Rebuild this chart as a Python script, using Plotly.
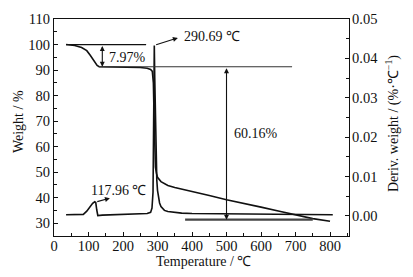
import plotly.graph_objects as go

# TG curve (weight %)
tg_temp = [35, 60, 80, 95, 105, 112, 119, 125, 131, 150, 200, 250, 270, 280, 285, 288, 290, 292, 294, 297,
           300, 310, 330, 350, 400, 450, 500, 550, 600, 650, 700, 750, 800]
tg_weight = [100, 99.6, 98.8, 97.6, 95.8, 94.3, 93.0, 91.8, 91.3, 91.25, 91.2, 91.0, 90.7, 90.2, 89.5, 85, 72, 58, 52, 49.5,
             48.0, 46.3, 44.8, 44.0, 42.6, 40.9, 39.2, 37.9, 36.3, 34.8, 33.2, 31.8, 30.8]

# DTG curve (%/°C)
dtg_temp = [35, 70, 85, 95, 105, 112, 118, 121, 124, 127, 140, 200, 250, 270, 280, 284, 287, 289, 290.69, 292, 294,
            296, 298, 300, 303, 306, 310, 315, 320, 330, 345, 370, 400, 500, 600, 700, 808]
dtg_value = [0.0003, 0.0003, 0.0004, 0.0012, 0.0025, 0.0032, 0.0036, 0.0034, 0.0015, 0.0001, 0.0002, 0.0003, 0.0004, 0.0006, 0.0009, 0.002, 0.006, 0.02, 0.0433, 0.035, 0.022,
             0.014, 0.009, 0.0065, 0.0045, 0.0033, 0.0024, 0.0018, 0.0014, 0.0011, 0.0009, 0.0007, 0.0006, 0.0005, 0.0004, 0.0003, 0.0003]

peak1_temp, peak1_val = 117.96, 0.0036
peak2_temp, peak2_val = 290.69, 0.0433
w_start, w_plateau, w_residual = 100, 91.3, 31.4
loss1_label, loss2_label = "7.97%", "60.16%"
x_title, y_title, y2_title = "Temperature / ℃", "Weight / %", "Deriv. weight / (%·℃<sup>−1</sup>)"

FONT = "Liberation Serif"
FS = 14
TFS = 14.5

fig = go.Figure()
fig.add_trace(go.Scatter(x=tg_temp, y=tg_weight, mode="lines",
                         line=dict(color="#111", width=1.6), yaxis="y", showlegend=False))
fig.add_trace(go.Scatter(x=dtg_temp, y=dtg_value, mode="lines",
                         line=dict(color="#111", width=1.6), yaxis="y2", showlegend=False))

shapes = [
    dict(type="line", xref="x", yref="y", x0=35, x1=267, y0=w_start, y1=w_start, line=dict(color="#111", width=1.2)),
    dict(type="line", xref="x", yref="y", x0=130, x1=690, y0=w_plateau, y1=w_plateau, line=dict(color="#333", width=1.1)),
    dict(type="line", xref="x", yref="y", x0=380, x1=750, y0=w_residual, y1=w_residual, line=dict(color="#444", width=2.2)),
]

ann = []
# double arrows
ann.append(dict(x=140, y=w_plateau, ax=140, ay=w_start, xref="x", yref="y", axref="x", ayref="y",
                text="", showarrow=True, arrowhead=2, arrowside="end+start", arrowsize=0.9, arrowwidth=1.1, arrowcolor="#111"))
ann.append(dict(x=500, y=w_residual, ax=500, ay=w_plateau, xref="x", yref="y", axref="x", ayref="y",
                text="", showarrow=True, arrowhead=2, arrowside="end+start", arrowsize=0.9, arrowwidth=1.1, arrowcolor="#111"))
# peak arrows
ann.append(dict(x=359, y=102.6, ax=peak2_temp + 1, ay=99.7, xref="x", yref="y", axref="x", ayref="y",
                text="", showarrow=True, arrowhead=2, arrowsize=0.9, arrowwidth=1.1, arrowcolor="#111"))
ann.append(dict(x=162, y=39.8, ax=peak1_temp + 3, ay=38.3, xref="x", yref="y", axref="x", ayref="y",
                text="", showarrow=True, arrowhead=2, arrowsize=0.9, arrowwidth=1.1, arrowcolor="#111"))
# labels
tf = dict(family=FONT, size=FS, color="#111")
ann.append(dict(x=212, y=95.1, xref="x", yref="y", text=loss1_label, showarrow=False, font=tf))
ann.append(dict(x=516, y=65.3, xref="x", yref="y", text=loss2_label, showarrow=False, font=tf, xanchor="left"))
ann.append(dict(x=372, y=103.0, xref="x", yref="y", text=f"{peak2_temp:.2f} ℃", showarrow=False, font=tf, xanchor="left"))
ann.append(dict(x=188, y=42.9, xref="x", yref="y", text=f"{peak1_temp:.2f} ℃", showarrow=False, font=tf))
# axis titles
ann.append(dict(x=0.507, y=-0.117, xref="paper", yref="paper", text=x_title, showarrow=False, font=tf,
                xanchor="center", yanchor="middle"))
ann.append(dict(x=-0.122, y=0.525, xref="paper", yref="paper", text=y_title, showarrow=False, font=tf,
                textangle=-90, xanchor="center", yanchor="middle"))
ann.append(dict(x=1.146, y=0.516, xref="paper", yref="paper", text=y2_title, showarrow=False, font=tf,
                textangle=-90, xanchor="center", yanchor="middle"))

axis_common = dict(showgrid=False, zeroline=False, showline=True, linecolor="#111", linewidth=1.2,
                   ticks="inside", ticklen=4, tickwidth=1.1, tickcolor="#111", automargin=False,
                   tickfont=dict(family=FONT, size=TFS, color="#111"))

# page body has an 8px margin: shift the figure box accordingly
fig.update_layout(
    width=405, height=269,
    margin=dict(l=46, r=64, t=11, b=41),
    paper_bgcolor="white", plot_bgcolor="white",
    font=dict(family=FONT, size=FS, color="#111"),
    shapes=shapes, annotations=ann,
    xaxis=dict(range=[0, 855], dtick=100, tick0=0, mirror=True, ticklabelstandoff=-4,
               minor=dict(dtick=50, ticks="inside", ticklen=2.5, tickcolor="#111"),
               **axis_common),
    yaxis=dict(range=[25, 110], dtick=10, tick0=0,
               minor=dict(dtick=5, ticks="inside", ticklen=2.5, tickcolor="#111"),
               **axis_common),
    yaxis2=dict(range=[-0.0051, 0.05], dtick=0.01, tick0=0, tickformat=".2f",
                overlaying="y", side="right", ticklabelstandoff=-1,
                minor=dict(dtick=0.005, ticks="inside", ticklen=2.5, tickcolor="#111"),
                **axis_common),
)

fig.write_html("out.html")
